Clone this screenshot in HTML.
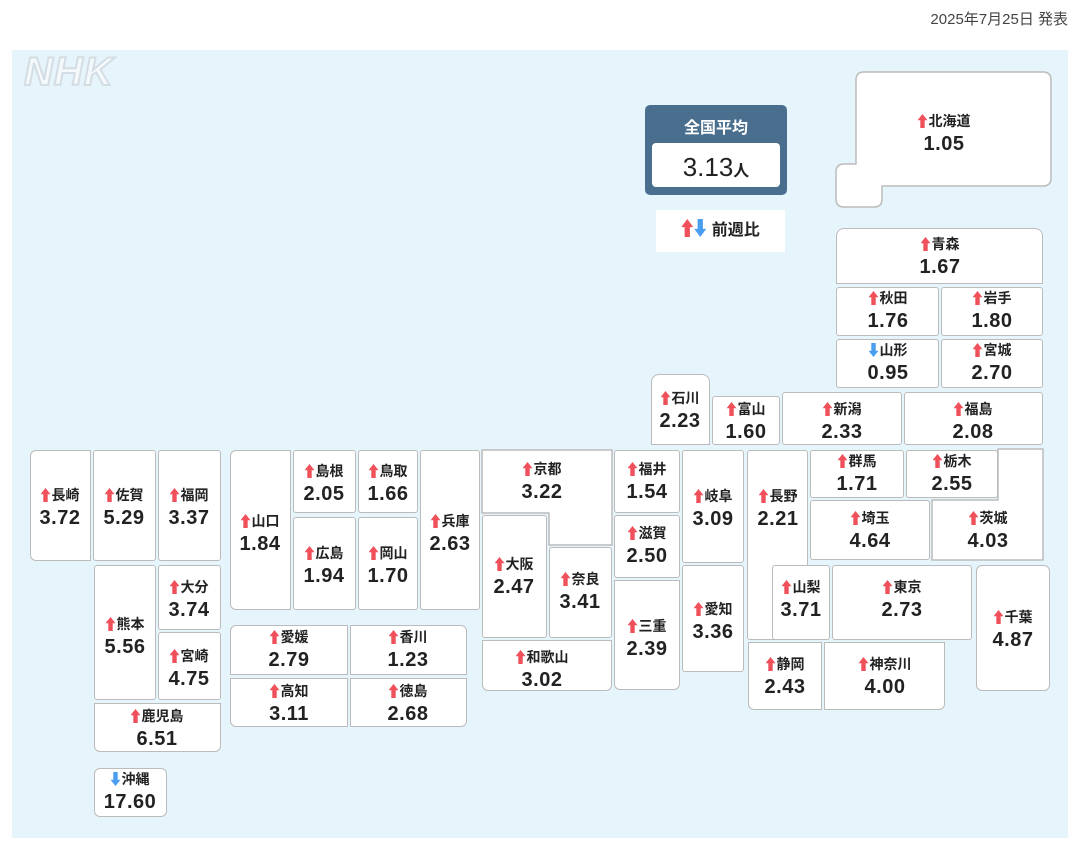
<!DOCTYPE html>
<html><head><meta charset="utf-8"><style>
body{margin:0;width:1080px;height:850px;background:#fff;position:relative;overflow:hidden;font-family:"Liberation Sans","Noto Sans CJK JP",sans-serif;color:#222}
.a{position:absolute}
.bg{left:12px;top:50px;width:1056px;height:788px;background:#e6f4fb}
.b{position:absolute;background:#fff;border:1.5px solid #bbb;box-sizing:border-box;border-radius:3px}
.t{position:absolute;width:130px;text-align:center;font-weight:bold}
.t .n{font-size:14px;line-height:20px}
.t .v{font-size:20px;line-height:26px;letter-spacing:0.5px}
.u,.d{display:inline-block;width:10px;height:14px;vertical-align:-2px;margin-right:1px}
.u{background:#f0505a;clip-path:polygon(50% 0,100% 45%,72% 45%,72% 100%,28% 100%,28% 45%,0 45%)}
.d{background:#4a9ef0;clip-path:polygon(28% 0,72% 0,72% 55%,100% 55%,50% 100%,0 55%,28% 55%)}
</style></head><body>
<div class="a" style="right:12px;top:8px;font-size:15px;color:#444">2025年7月25日 発表</div>
<div class="a bg"></div>
<div class="a" style="left:24px;top:50px;font-size:40px;font-weight:bold;font-style:italic;color:#f4f9fc;-webkit-text-stroke:2px #d4dde3;letter-spacing:1px">NHK</div>

<div class="a" style="left:645px;top:105px;width:142px;height:90px;background:#4a6f8e;border-radius:5px"></div>
<div class="a" style="left:645px;top:114px;width:142px;text-align:center;color:#fff;font-weight:bold;font-size:16px">全国平均</div>
<div class="a" style="left:652px;top:143px;width:128px;height:44px;background:#fff;border-radius:4px;text-align:center;font-size:26px;line-height:48px">3.13<span style="font-size:16px;font-weight:bold">人</span></div>
<div class="a" style="left:656px;top:210px;width:129px;height:42px;background:#fff;text-align:center;font-weight:bold;font-size:16px;line-height:42px"><span class="u" style="width:12px;height:18px"></span><span class="d" style="width:12px;height:18px"></span> 前週比</div>

<svg class="a" style="left:0;top:0" width="1080" height="850">
<g fill="#fff" stroke="#bbb" stroke-width="1.5" stroke-linejoin="round">
<path d="M864,72 H1043 Q1051,72 1051,80 V178 Q1051,186 1043,186 H882 V199 Q882,207 874,207 H844 Q836,207 836,199 V172 Q836,164 844,164 H856 V80 Q856,72 864,72 Z"/>
<path d="M998,449 H1043 V560 H932 V500 H998 Z"/>
<path d="M482,450 H612 V545 H549 V513 H482 Z"/>
</g></svg>

<div class="b" style="left:836px;top:228px;width:207px;height:56px;border-radius:8px 8px 0 0"></div>
<div class="b" style="left:836px;top:287px;width:103px;height:49px"></div>
<div class="b" style="left:941px;top:287px;width:102px;height:49px"></div>
<div class="b" style="left:836px;top:339px;width:103px;height:49px"></div>
<div class="b" style="left:941px;top:339px;width:102px;height:49px"></div>
<div class="b" style="left:651px;top:374px;width:59px;height:71px;border-radius:8px 8px 0 0"></div>
<div class="b" style="left:712px;top:396px;width:68px;height:49px"></div>
<div class="b" style="left:782px;top:392px;width:120px;height:53px"></div>
<div class="b" style="left:904px;top:392px;width:139px;height:53px"></div>
<div class="b" style="left:810px;top:450px;width:94px;height:48px"></div>
<div class="b" style="left:906px;top:450px;width:92px;height:48px"></div>
<div class="b" style="left:810px;top:500px;width:120px;height:60px"></div>
<div class="b" style="left:747px;top:450px;width:61px;height:190px"></div>
<div class="b" style="left:772px;top:565px;width:58px;height:75px"></div>
<div class="b" style="left:832px;top:565px;width:140px;height:75px"></div>
<div class="b" style="left:976px;top:565px;width:74px;height:126px;border-radius:6px"></div>
<div class="b" style="left:748px;top:642px;width:74px;height:68px;border-radius:0 0 0 6px"></div>
<div class="b" style="left:824px;top:642px;width:121px;height:68px;border-radius:0 0 6px 0"></div>
<div class="b" style="left:682px;top:450px;width:62px;height:113px"></div>
<div class="b" style="left:682px;top:565px;width:62px;height:107px"></div>
<div class="b" style="left:614px;top:450px;width:66px;height:63px"></div>
<div class="b" style="left:614px;top:515px;width:66px;height:63px"></div>
<div class="b" style="left:614px;top:580px;width:66px;height:110px;border-radius:0 0 6px 6px"></div>
<div class="b" style="left:482px;top:515px;width:65px;height:123px"></div>
<div class="b" style="left:549px;top:547px;width:63px;height:91px"></div>
<div class="b" style="left:482px;top:640px;width:130px;height:51px;border-radius:0 0 6px 6px"></div>
<div class="b" style="left:420px;top:450px;width:60px;height:160px"></div>
<div class="b" style="left:358px;top:450px;width:60px;height:63px"></div>
<div class="b" style="left:293px;top:450px;width:63px;height:63px"></div>
<div class="b" style="left:293px;top:517px;width:63px;height:93px"></div>
<div class="b" style="left:358px;top:517px;width:60px;height:93px"></div>
<div class="b" style="left:230px;top:450px;width:61px;height:160px;border-radius:6px 0 0 6px"></div>
<div class="b" style="left:230px;top:625px;width:118px;height:50px;border-radius:6px 0 0 0"></div>
<div class="b" style="left:350px;top:625px;width:117px;height:50px;border-radius:0 6px 0 0"></div>
<div class="b" style="left:230px;top:678px;width:118px;height:49px;border-radius:0 0 0 6px"></div>
<div class="b" style="left:350px;top:678px;width:117px;height:49px;border-radius:0 0 6px 0"></div>
<div class="b" style="left:30px;top:450px;width:61px;height:111px;border-radius:6px 0 0 6px"></div>
<div class="b" style="left:93px;top:450px;width:63px;height:111px"></div>
<div class="b" style="left:158px;top:450px;width:63px;height:111px"></div>
<div class="b" style="left:94px;top:565px;width:62px;height:135px"></div>
<div class="b" style="left:158px;top:565px;width:63px;height:65px"></div>
<div class="b" style="left:158px;top:632px;width:63px;height:68px"></div>
<div class="b" style="left:94px;top:703px;width:127px;height:49px;border-radius:0 0 6px 6px"></div>
<div class="b" style="left:94px;top:768px;width:73px;height:49px;border-radius:6px"></div>

<div class="t" style="left:879px;top:111px"><div class="n"><span class="u"></span>北海道</div><div class="v">1.05</div></div>
<div class="t" style="left:875px;top:234px"><div class="n"><span class="u"></span>青森</div><div class="v">1.67</div></div>
<div class="t" style="left:823px;top:288px"><div class="n"><span class="u"></span>秋田</div><div class="v">1.76</div></div>
<div class="t" style="left:927px;top:288px"><div class="n"><span class="u"></span>岩手</div><div class="v">1.80</div></div>
<div class="t" style="left:823px;top:340px"><div class="n"><span class="d"></span>山形</div><div class="v">0.95</div></div>
<div class="t" style="left:927px;top:340px"><div class="n"><span class="u"></span>宮城</div><div class="v">2.70</div></div>
<div class="t" style="left:615px;top:388px"><div class="n"><span class="u"></span>石川</div><div class="v">2.23</div></div>
<div class="t" style="left:681px;top:399px"><div class="n"><span class="u"></span>富山</div><div class="v">1.60</div></div>
<div class="t" style="left:777px;top:399px"><div class="n"><span class="u"></span>新潟</div><div class="v">2.33</div></div>
<div class="t" style="left:908px;top:399px"><div class="n"><span class="u"></span>福島</div><div class="v">2.08</div></div>
<div class="t" style="left:792px;top:451px"><div class="n"><span class="u"></span>群馬</div><div class="v">1.71</div></div>
<div class="t" style="left:887px;top:451px"><div class="n"><span class="u"></span>栃木</div><div class="v">2.55</div></div>
<div class="t" style="left:805px;top:508px"><div class="n"><span class="u"></span>埼玉</div><div class="v">4.64</div></div>
<div class="t" style="left:923px;top:508px"><div class="n"><span class="u"></span>茨城</div><div class="v">4.03</div></div>
<div class="t" style="left:713px;top:486px"><div class="n"><span class="u"></span>長野</div><div class="v">2.21</div></div>
<div class="t" style="left:736px;top:577px"><div class="n"><span class="u"></span>山梨</div><div class="v">3.71</div></div>
<div class="t" style="left:837px;top:577px"><div class="n"><span class="u"></span>東京</div><div class="v">2.73</div></div>
<div class="t" style="left:948px;top:607px"><div class="n"><span class="u"></span>千葉</div><div class="v">4.87</div></div>
<div class="t" style="left:720px;top:654px"><div class="n"><span class="u"></span>静岡</div><div class="v">2.43</div></div>
<div class="t" style="left:820px;top:654px"><div class="n"><span class="u"></span>神奈川</div><div class="v">4.00</div></div>
<div class="t" style="left:648px;top:486px"><div class="n"><span class="u"></span>岐阜</div><div class="v">3.09</div></div>
<div class="t" style="left:648px;top:599px"><div class="n"><span class="u"></span>愛知</div><div class="v">3.36</div></div>
<div class="t" style="left:582px;top:459px"><div class="n"><span class="u"></span>福井</div><div class="v">1.54</div></div>
<div class="t" style="left:582px;top:523px"><div class="n"><span class="u"></span>滋賀</div><div class="v">2.50</div></div>
<div class="t" style="left:582px;top:616px"><div class="n"><span class="u"></span>三重</div><div class="v">2.39</div></div>
<div class="t" style="left:477px;top:459px"><div class="n"><span class="u"></span>京都</div><div class="v">3.22</div></div>
<div class="t" style="left:449px;top:554px"><div class="n"><span class="u"></span>大阪</div><div class="v">2.47</div></div>
<div class="t" style="left:515px;top:569px"><div class="n"><span class="u"></span>奈良</div><div class="v">3.41</div></div>
<div class="t" style="left:477px;top:647px"><div class="n"><span class="u"></span>和歌山</div><div class="v">3.02</div></div>
<div class="t" style="left:385px;top:511px"><div class="n"><span class="u"></span>兵庫</div><div class="v">2.63</div></div>
<div class="t" style="left:323px;top:461px"><div class="n"><span class="u"></span>鳥取</div><div class="v">1.66</div></div>
<div class="t" style="left:259px;top:461px"><div class="n"><span class="u"></span>島根</div><div class="v">2.05</div></div>
<div class="t" style="left:259px;top:543px"><div class="n"><span class="u"></span>広島</div><div class="v">1.94</div></div>
<div class="t" style="left:323px;top:543px"><div class="n"><span class="u"></span>岡山</div><div class="v">1.70</div></div>
<div class="t" style="left:195px;top:511px"><div class="n"><span class="u"></span>山口</div><div class="v">1.84</div></div>
<div class="t" style="left:224px;top:627px"><div class="n"><span class="u"></span>愛媛</div><div class="v">2.79</div></div>
<div class="t" style="left:343px;top:627px"><div class="n"><span class="u"></span>香川</div><div class="v">1.23</div></div>
<div class="t" style="left:224px;top:681px"><div class="n"><span class="u"></span>高知</div><div class="v">3.11</div></div>
<div class="t" style="left:343px;top:681px"><div class="n"><span class="u"></span>徳島</div><div class="v">2.68</div></div>
<div class="t" style="left:-5px;top:485px"><div class="n"><span class="u"></span>長崎</div><div class="v">3.72</div></div>
<div class="t" style="left:59px;top:485px"><div class="n"><span class="u"></span>佐賀</div><div class="v">5.29</div></div>
<div class="t" style="left:124px;top:485px"><div class="n"><span class="u"></span>福岡</div><div class="v">3.37</div></div>
<div class="t" style="left:60px;top:614px"><div class="n"><span class="u"></span>熊本</div><div class="v">5.56</div></div>
<div class="t" style="left:124px;top:577px"><div class="n"><span class="u"></span>大分</div><div class="v">3.74</div></div>
<div class="t" style="left:124px;top:646px"><div class="n"><span class="u"></span>宮崎</div><div class="v">4.75</div></div>
<div class="t" style="left:92px;top:706px"><div class="n"><span class="u"></span>鹿児島</div><div class="v">6.51</div></div>
<div class="t" style="left:65px;top:769px"><div class="n"><span class="d"></span>沖縄</div><div class="v">17.60</div></div>
</body></html>
